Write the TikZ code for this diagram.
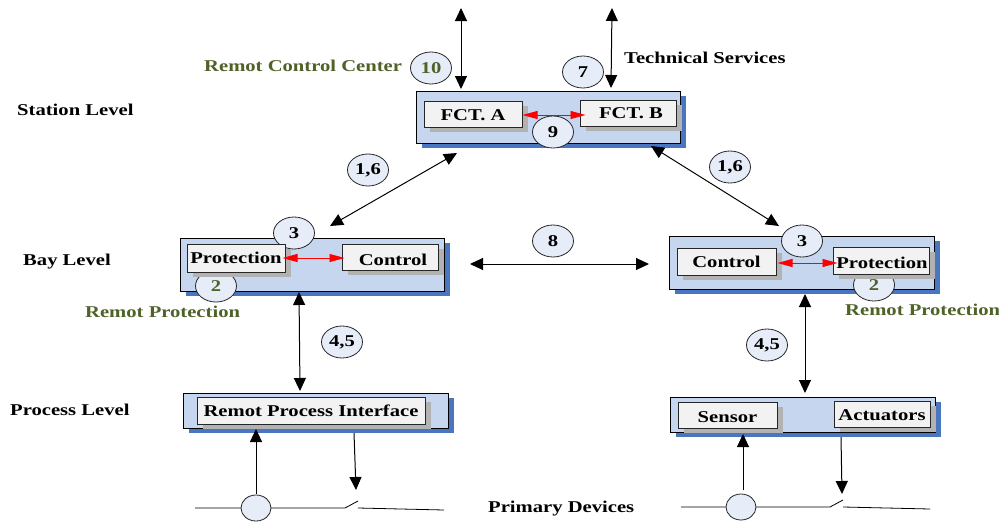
\documentclass[tikz,border=0pt]{standalone}
\usepackage{fontspec}
\setmainfont{Liberation Serif}[FakeStretch=1.25]
\usetikzlibrary{arrows.meta,shadows,calc,shapes.geometric}
\definecolor{panelfill}{HTML}{C5D6EE}
\definecolor{panelshadow}{HTML}{4A76C0}
\definecolor{innerfill}{HTML}{F2F2F2}
\definecolor{innershadow}{HTML}{B2B2B2}
\definecolor{bubblefill}{HTML}{E6EDF8}
\definecolor{olivetext}{HTML}{4F6228}
\tikzset{
  x=1pt,y=-1pt,
  lbl/.style={font=\fontsize{16.5}{18}\selectfont\bfseries,inner sep=0pt,text=black},
  green lbl/.style={lbl,text=olivetext},
  panel/.style={draw=black,line width=1pt,fill=panelfill,inner sep=0pt,
    general shadow={fill=panelshadow,draw=none,shadow xshift=6pt,shadow yshift=-5pt}},
  inner/.style={draw=black!85,line width=1pt,fill=innerfill,inner sep=0pt,lbl,
    general shadow={fill=innershadow,draw=none,shadow xshift=6pt,shadow yshift=-5pt}},
  bubble/.style={ellipse,draw=black!85,line width=0.8pt,fill=bubblefill,minimum width=41pt,minimum height=32pt,inner sep=0pt,lbl},
  sensorcirc/.style={ellipse,draw=black!85,line width=0.8pt,fill=bubblefill,minimum width=30pt,minimum height=26pt,inner sep=0pt},
  link/.style={draw=black,line width=1pt,{Triangle[length=13pt,width=12pt]}-{Triangle[length=13pt,width=12pt]}},
  uplink/.style={draw=black,line width=1pt,-{Triangle[length=13pt,width=12pt]}},
  redlink/.style={draw=red,line width=0.9pt,{Triangle[length=15pt,width=8pt]}-{Triangle[length=15pt,width=8pt]}},
  wire/.style={draw=black,line width=0.8pt},
}
\newcommand\bx[7]{\node[#1,minimum width={(#5-#3)*1pt},minimum height={(#6-#4)*1pt}] (#2) at ({(#3+#5)/2},{(#4+#6)/2}) {#7};}
\newcommand\tx[2]{\raisebox{\dimexpr-5.4pt-#1pt\relax}[0pt][0pt]{#2}}
\begin{document}
\begin{tikzpicture}
\useasboundingbox (0,0) rectangle (999,522);
% panels
\bx{panel}{station}{416}{91}{680}{143}{}
\bx{panel}{bayL}{180}{238}{444}{291}{}
\bx{panel}{bayR}{669}{236}{934}{289}{}
\bx{panel}{procL}{183}{393}{448}{428}{}
\bx{panel}{procR}{670}{397}{935}{432}{}
% bubbles behind inner boxes
\node[bubble] (b10) at (431,68) {\textcolor{olivetext}{10}};
\node[bubble] (b7) at (583,72) {7};
\node[bubble] (b9) at (553,132) {9};
\node[bubble] (b3L) at (294,233) {3};
\node[bubble] (b2L) at (216,286) {\textcolor{olivetext}{2}};
\node[bubble] (b3R) at (802,241) {3};
\node[bubble] (b2R) at (874,285) {\textcolor{olivetext}{2}};
\node[bubble] (b16L) at (368,170) {1,6};
\node[bubble] (b16R) at (730,167) {1,6};
\node[bubble] (b8) at (553,241) {8};
\node[bubble] (b45L) at (342,342) {4,5};
\node[bubble] (b45R) at (767,345) {4,5};
% inner boxes
\bx{inner}{fctA}{424}{101}{522}{127}{\tx{1}{FCT. A}}
\bx{inner}{fctB}{580}{100}{676}{126}{\hspace*{6pt}\tx{0}{FCT. B}}
\bx{inner}{protL}{187}{244}{285}{272}{\tx{0}{Protection}}
\bx{inner}{ctrlL}{342}{244}{438}{270}{\hspace*{6pt}\tx{3}{Control}}
\bx{inner}{ctrlR}{677}{248}{776}{275}{\tx{0.5}{Control}}
\bx{inner}{protR}{833}{247}{929}{274}{\hspace*{2pt}\tx{2.5}{Protection}}
\bx{inner}{rpi}{197}{397}{425}{424}{\tx{0.5}{Remot Process Interface}}
\bx{inner}{sensor}{678}{402}{777}{428}{\tx{2}{Sensor}}
\bx{inner}{actu}{834}{401}{930}{427}{\tx{1}{Actuators}}
% labels
\node[lbl,anchor=west] (lStation) at (17,110) {Station Level};
\node[lbl,anchor=west] (lBay) at (23,262) {Bay Level};
\node[lbl,anchor=west] (lProc) at (10,410) {Process Level};
\node[green lbl,anchor=west] (lRcc) at (204,66) {Remot Control Center};
\node[lbl,anchor=west] (lTech) at (624,58) {Technical Services};
\node[green lbl,anchor=west] (lRpL) at (85,312) {Remot Protection};
\node[green lbl,anchor=west] (lRpR) at (845,310) {Remot Protection};
\node[lbl,anchor=west] (lPrim) at (488,509) {Primary Devices};
% free ends
\coordinate (rcc) at (461,8);
\coordinate (rccS) at (461,89);
\coordinate (ts) at (612,8);
\coordinate (tsS) at (611,88);
\coordinate (stSW) at (457,153);
\coordinate (bayLN) at (330,226);
\coordinate (stSE) at (651,146);
\coordinate (bayRN) at (779,226);
\coordinate (m1) at (470,264);
\coordinate (m2) at (649,264);
\coordinate (bayLS) at (299,292);
\coordinate (procLN) at (300,391);
\coordinate (bayRS) at (805,294);
\coordinate (procRN) at (805,393);
\coordinate (s1a) at (256,494);
\coordinate (s1b) at (256,429);
\coordinate (a1a) at (354,433);
\coordinate (a1b) at (356,490);
\coordinate (s2a) at (743,490);
\coordinate (s2b) at (743,434);
\coordinate (a2a) at (841,437);
\coordinate (a2b) at (842,494);
% connectors
\draw[link] (rcc) -- (rccS);
\draw[link] (ts) -- (tsS);
\draw[link] (stSW) -- (bayLN);
\draw[link] (stSE) -- (bayRN);
\draw[link] (m1) -- (m2);
\draw[link] (bayLS) -- (procLN);
\draw[link] (bayRS) -- (procRN);
\draw[uplink] (s1a) -- (s1b);
\draw[uplink] (a1a) -- (a1b);
\draw[uplink] (s2a) -- (s2b);
\draw[uplink] (a2a) -- (a2b);
\draw[redlink] ($(fctA.east)+(0,1)$) -- ($(fctB.west)+(6,2)$);
\draw[redlink] ($(protL.east)+(-3,0)$) -- ($(ctrlL.west)+(3,1)$);
\draw[redlink] ($(ctrlR.east)+(1,1.5)$) -- ($(protR.west)+(5,2.5)$);
% primary devices
\coordinate (w1) at (195,508);
\coordinate (w2) at (345,508);
\coordinate (w3) at (358,501);
\coordinate (w4) at (358,508);
\coordinate (w5) at (444,510);
\draw[wire] (w1) -- (w2) -- (w3);
\draw[wire] (w4) -- (w5);
\node[sensorcirc] (ct1) at (256,508) {};
\coordinate (v1) at (681,507);
\coordinate (v2) at (830,507);
\coordinate (v3) at (843,500);
\coordinate (v4) at (843,507);
\coordinate (v5) at (930,509);
\draw[wire] (v1) -- (v2) -- (v3);
\draw[wire] (v4) -- (v5);
\node[sensorcirc] (ct2) at (741,507) {};
\end{tikzpicture}
\end{document}
